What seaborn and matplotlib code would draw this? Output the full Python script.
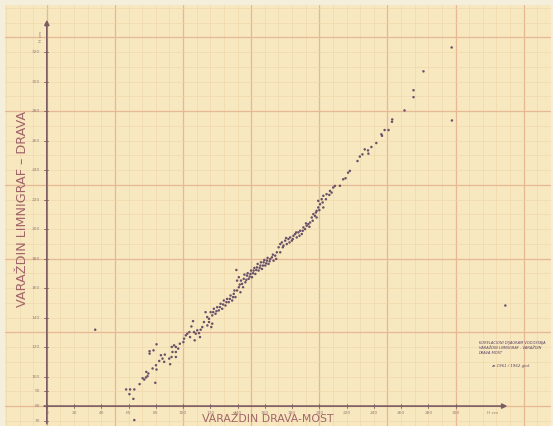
import numpy as np
import pandas as pd
import matplotlib
matplotlib.use("Agg")
import matplotlib.pyplot as plt
import seaborn as sns

# vodostaji (cm): Varaždin Drava-most (x) prema Varaždin limnigraf (y)
most = [
    35.5, 58.2, 61.1, 64.2, 60.6, 63.5, 64.2, 68.1,
    70.3, 71.5, 72.7, 73.9, 74.5, 73.0, 75.4, 75.4, 78.3, 80.5, 79.6,
    77.6, 80.1, 80.5, 82.5, 83.7, 84.9, 86.1, 86.6, 89.8, 90.5, 91.5,
    91.7, 93.4, 94.7, 92.2, 94.7, 96.4, 97.6, 94.7,
    100.2, 100.7, 102.0, 103.1, 104.6, 105.1, 106.1, 107.3, 108.0, 109.3,
    110.4, 111.7, 112.9, 114.1, 115.3, 112.4, 108.5,
    117.8, 119.0, 120.7, 121.4,
    117.7, 120.2, 121.4, 122.6, 123.8, 125.0, 126.2, 127.5, 128.7, 129.9,
    131.1, 132.3, 133.5, 134.8, 136.0, 137.2, 138.4, 139.6, 140.9, 142.1,
    143.3, 139.6, 140.9, 144.5, 145.7, 146.9, 148.1, 149.4, 150.6, 151.8,
    153.0, 154.2, 155.4, 156.7, 157.9, 159.1, 160.3, 161.5, 162.7, 164.0,
    165.2, 166.4, 167.6, 139.1, 168.8, 171.3, 172.5, 173.7, 174.9, 176.1,
    177.3, 178.6, 179.8, 181.0, 182.2, 183.4, 184.6, 185.9, 187.1, 188.3,
    189.5, 190.7, 191.9, 193.2, 194.4, 195.6, 196.8, 198.0, 199.2, 200.5,
    199.2, 201.7, 202.9, 205.3, 207.8, 210.2, 211.4, 202.9, 198.0, 171.3,
    170.1,
    116.5, 119.0, 122.1, 124.5, 127.0, 129.4, 131.8, 134.3, 136.7, 137.7,
    141.6, 144.0, 146.4, 148.9, 151.3, 153.7, 156.2, 158.6, 161.0, 163.5,
    142.5, 145.0, 147.4, 149.9, 152.3, 154.7, 157.1, 159.6, 162.0, 165.9,
    168.3, 173.2, 175.6, 178.1, 180.5, 183.0, 185.4, 187.8, 190.2, 192.7,
    195.1, 197.5, 200.0, 202.4, 204.8, 207.3, 209.0,
    215.1, 217.5, 219.2, 221.1, 222.4, 228.0, 229.7, 231.6, 236.0, 233.3,
    235.7, 238.2, 241.8, 246.0, 245.5, 250.8, 247.9, 253.3, 253.5, 262.5,
    269.1, 269.1, 276.4, 297.1, 297.3, 336.5,
]
limnigraf = [
    131.8, 91.3, 91.3, 91.3, 88.1, 84.9, 70.5, 94.9,
    98.9, 98.0, 99.4, 100.3, 102.1, 103.2, 115.6, 117.2, 117.8, 121.9, 95.8,
    105.5, 107.7, 104.8, 110.6, 114.5, 112.2, 110.0, 114.9, 112.2, 108.4, 113.3,
    120.1, 121.2, 120.1, 116.7, 116.7, 119.0, 122.3, 113.3,
    123.4, 125.7, 128.0, 129.1, 130.2, 126.8, 134.0, 137.6, 130.2, 129.1,
    131.4, 129.5, 131.8, 133.6, 137.0, 126.8, 124.6,
    134.7, 137.0, 133.6, 135.9,
    140.4, 143.7, 141.5, 146.0, 142.6, 147.1, 144.9, 149.4, 146.0, 151.6,
    148.2, 152.7, 150.5, 155.0, 151.6, 156.1, 153.9, 158.4, 160.6, 157.2,
    162.9, 165.1, 167.4, 166.3, 164.0, 168.5, 166.3, 169.6, 167.4, 171.9,
    169.6, 174.1, 171.9, 175.3, 173.0, 177.5, 175.3, 178.6, 176.4, 179.8,
    180.9, 178.6, 182.0, 172.3, 184.3, 189.9, 191.0, 188.8, 192.2, 189.9,
    193.3, 194.4, 192.2, 195.5, 196.7, 194.4, 197.8, 198.9, 196.7, 201.2,
    200.0, 202.3, 203.4, 204.5, 207.9, 210.2, 209.0, 212.4, 214.7, 216.9,
    219.2, 220.3, 222.6, 223.7, 225.9, 228.2, 229.3, 214.7, 207.9, 184.3,
    187.7,
    143.7, 139.2, 143.7, 144.4, 147.1, 148.9, 150.5, 152.7, 153.9, 158.4,
    162.4, 160.6, 165.6, 167.8, 170.1, 172.3, 173.7, 175.3, 176.8, 178.2,
    165.1, 169.2, 170.1, 171.9, 173.7, 176.4, 177.5, 179.1, 180.5, 182.7,
    179.8, 187.7, 194.0, 191.0, 193.3, 197.8, 195.5, 198.9, 203.9, 201.6,
    205.7, 211.3, 212.9, 218.1, 220.3, 223.2, 224.8,
    229.4, 233.8, 234.5, 238.3, 239.5, 246.2, 249.2, 250.7, 251.2, 254.1,
    253.4, 255.7, 258.4, 263.3, 264.3, 267.2, 267.2, 272.8, 274.4, 280.5,
    289.5, 294.2, 307.0, 323.2, 273.7, 148.2,
]

x_ticks = list(range(0, 301, 20))
y_ticks = [70, 80, 90, 100] + list(range(120, 321, 20))

legenda = [
    "KORELACIONI DIJAGRAM VODOSTAJA",
    "VARAŽDIN LIMNIGRAF - VARAŽDIN",
    "DRAVA-MOST",
]
period = "za 1961 / 1962 god."

df = pd.DataFrame({"most": most, "limnigraf": limnigraf})

sns.set_style("white")
plt.rcParams["font.family"] = ["DejaVu Sans"]

paper = "#f8e8bf"
axis_col = "#7a5c62"
label_col = "#a0646a"
tick_col = "#9a8078"

fig = plt.figure(figsize=(5.53, 4.26), dpi=100, facecolor="#f4eedc")
ax = fig.add_axes([5 / 553, 0, 1 - 7 / 553, 1 - 5 / 426])
ax.set_facecolor(paper)

ax.set_xlim(-30.7, 370)
ax.set_ylim(66.5, 352)

# milimetarski papir
ax.set_xticks(np.arange(0, 371, 50))
ax.set_xticks(np.arange(-30, 371, 10), minor=True)
ax.set_yticks(np.arange(80, 352, 50))
ax.set_yticks(np.arange(70, 352, 10), minor=True)
ax.grid(which="major", color="#e6b894", linewidth=0.9)
ax.grid(which="minor", color="#efd5a9", linewidth=0.45)
ax.tick_params(which="both", length=0, labelbottom=False, labelleft=False)
for s in ax.spines.values():
    s.set_visible(False)

sns.scatterplot(data=df, x="most", y="limnigraf", ax=ax, s=3.2,
                color="#6a5068", edgecolor="none", zorder=5, legend=False)
ax.set_xlabel("")
ax.set_ylabel("")

# osi sa strelicama
ax.annotate("", xy=(338, 80), xytext=(-2, 80),
            arrowprops=dict(arrowstyle="-|>", color=axis_col, lw=1.2,
                            mutation_scale=7, shrinkA=0, shrinkB=0), zorder=4)
ax.annotate("", xy=(0, 342), xytext=(0, 68),
            arrowprops=dict(arrowstyle="-|>", color=axis_col, lw=1.2,
                            mutation_scale=7, shrinkA=0, shrinkB=0), zorder=4)

for t in x_ticks:
    ax.plot([t, t], [78.5, 81.5], color=axis_col, lw=0.6, zorder=4)
    ax.text(t, 75.3, str(t), ha="center", va="center", fontsize=3.2, color=tick_col)
for t in y_ticks:
    ax.plot([-2, 1], [t, t], color=axis_col, lw=0.6, zorder=4)
    ax.text(-5, t, str(t), ha="right", va="center", fontsize=3.2, color=tick_col)

ax.text(327, 75.3, "H cm", ha="center", va="center", fontsize=3.2, color=tick_col)
ax.text(-4, 331, "H cm", ha="center", va="center", fontsize=3.2,
        color=tick_col, rotation=90)

ax.text(162, 71.5, "VARAŽDIN DRAVA-MOST", ha="center", va="center",
        fontsize=7.8, color=label_col)
ax.text(-18, 214, "VARAŽDIN LIMNIGRAF – DRAVA", ha="center", va="center",
        fontsize=9.2, color=label_col, rotation=90)

for i, line in enumerate(legenda):
    ax.text(317, 122.5 - i * 3.2, line, ha="left", va="center", fontsize=2.6,
            color="#5e4468", style="italic")
ax.text(326, 107.5, period, ha="left", va="center", fontsize=2.8,
        color="#5e4468", style="italic")

fig.savefig("out.png", dpi=100, facecolor=fig.get_facecolor())
